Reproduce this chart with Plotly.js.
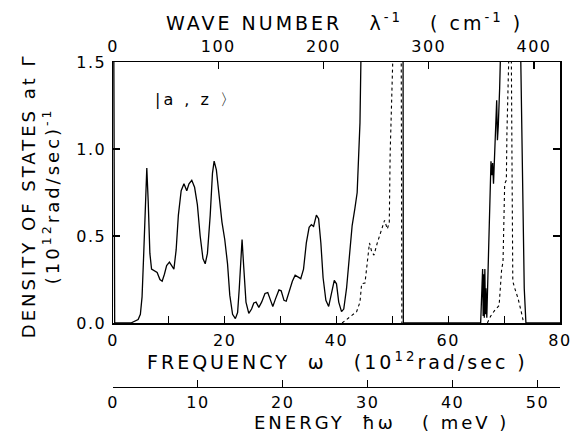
<!DOCTYPE html>
<html>
<head>
<meta charset="utf-8">
<script src="https://cdn.plot.ly/plotly-3.0.1.min.js"></script>
<style>
html,body{margin:0;padding:0;background:#fff;}
#chart{width:578px;height:438px;}
.annotation-text{letter-spacing:3px;}
.xtick text,.x2tick text,.x3tick text,.ytick text{letter-spacing:1.5px;}
</style>
</head>
<body>
<div id="chart"></div>
<script>
// Density of states |a,z> : solid curve (frequency in 10^12 rad/s, value)
const solidW = [0, 0.3, 3.2, 3.8, 4.5, 4.9, 5.2, 5.5, 5.8, 6.05, 6.3, 6.6, 6.9, 7.4, 7.9, 8.4, 8.8, 9.2, 9.6, 10.1, 10.5, 10.9, 11.3, 11.7, 12.2, 12.7, 13.2, 13.6, 14.1, 14.6, 15.1, 15.6, 16.1, 16.5, 16.9, 17.4, 17.8, 18.1, 18.5, 19.0, 19.5, 20.0, 20.5, 20.9, 21.4, 21.9, 22.3, 22.6, 22.9, 23.1, 23.4, 23.8, 24.3, 24.8, 25.2, 25.6, 26.1, 26.6, 27.2, 27.7, 28.2, 28.6, 29.1, 29.7, 30.1, 30.6, 31.0, 31.5, 32.1, 32.6, 33.2, 33.6, 34.1, 34.6, 35.1, 35.5, 35.9, 36.4, 36.8, 37.2, 37.6, 38.1, 38.6, 39.1, 39.6, 40.0, 40.4, 40.9, 41.3, 41.8, 42.3, 42.8, 43.3, 43.7, 44.2, 44.6, 51.9, 51.96, 65.8, 66.15, 66.25, 66.35, 66.45, 66.55, 66.65, 66.75, 66.9, 67.2, 67.5, 67.65, 67.8, 67.95, 68.1, 68.3, 68.5, 68.67, 68.8, 68.95, 69.2, 69.7, 72.75, 73.2, 73.6, 73.9, 80];
const solidV = [3.0, 0, 0, 0.01, 0.02, 0.05, 0.15, 0.4, 0.75, 0.89, 0.7, 0.4, 0.31, 0.30, 0.29, 0.25, 0.24, 0.28, 0.33, 0.35, 0.33, 0.31, 0.42, 0.62, 0.76, 0.80, 0.76, 0.80, 0.82, 0.78, 0.68, 0.50, 0.37, 0.34, 0.40, 0.62, 0.86, 0.93, 0.88, 0.72, 0.58, 0.48, 0.34, 0.16, 0.05, 0.025, 0.06, 0.20, 0.40, 0.48, 0.32, 0.12, 0.055, 0.08, 0.115, 0.12, 0.09, 0.12, 0.17, 0.175, 0.13, 0.095, 0.14, 0.19, 0.185, 0.13, 0.125, 0.18, 0.24, 0.275, 0.26, 0.255, 0.31, 0.46, 0.55, 0.565, 0.555, 0.62, 0.60, 0.46, 0.26, 0.13, 0.095, 0.17, 0.245, 0.225, 0.12, 0.065, 0.08, 0.20, 0.40, 0.56, 0.66, 0.75, 1.15, 2.0, 2.0, 0, 0, 0.31, 0.04, 0.28, 0.03, 0.31, 0.05, 0.2, 0.03, 0.35, 0.75, 0.93, 0.85, 0.92, 0.80, 0.95, 1.15, 1.28, 1.05, 1.13, 1.35, 2.0, 2.0, 0.9, 0.2, 0, 0];
// dashed curve
const dashW = [41.0, 42.4, 43.6, 44.2, 44.5, 45.1, 45.5, 45.9, 46.3, 46.7, 47.3, 48.1, 48.6, 49.1, 49.45, 49.6, 50.05, 50.5, 51.55, 51.7, null, 67.0, 67.6, 68.25, 69.1, 69.56, 69.8, 70.1, 70.4, 70.5, 70.9, 71.2, 71.4, 71.55, 71.9, 72.5, 73.1, 73.5];
const dashV = [0, 0.036, 0.065, 0.12, 0.225, 0.23, 0.36, 0.46, 0.41, 0.39, 0.46, 0.54, 0.59, 0.54, 0.58, 0.97, 1.35, 2.0, 2.0, 0, null, 0, 0.04, 0.07, 0.10, 0.31, 0.35, 0.80, 0.82, 1.09, 2.0, 2.0, 0.97, 0.24, 0.20, 0.14, 0.06, 0];

// axes ticks
const freqTicks = [0, 20, 40, 60, 80];
const freqMinorStep = 10;
const waveTicks = [0, 100, 200, 300, 400];
const energyTicks = [0, 10, 20, 30, 40, 50];
const dosTicks = [0, 0.5, 1.0, 1.5];
const dosLabels = ['0.0', '0.5', '1.0', '1.5'];

const FREQ_MAX = 80;
const WAVE_PER_FREQ = 1 / 0.188365;   // cm^-1 per 10^12 rad/s
const MEV_PER_FREQ = 0.658212;        // meV per 10^12 rad/s

const font = {family: 'DejaVu Sans, sans-serif', color: '#000', size: 16};

const traces = [
  {x: solidW, y: solidV, mode: 'lines', line: {color: '#000', width: 1.3}, xaxis: 'x', yaxis: 'y', showlegend: false, hoverinfo: 'skip'},
  {x: dashW, y: dashV, mode: 'lines', line: {color: '#000', width: 1.1, dash: '3px,3px'}, xaxis: 'x', yaxis: 'y', showlegend: false, hoverinfo: 'skip', connectgaps: false},
  {x: [], y: [], mode: 'lines', xaxis: 'x2', yaxis: 'y', showlegend: false, hoverinfo: 'skip'},
  {x: [], y: [], mode: 'lines', xaxis: 'x3', yaxis: 'y', showlegend: false, hoverinfo: 'skip'}
];

const axCommon = {showgrid: false, zeroline: false, showline: true, linecolor: '#000', ticks: 'inside', tickcolor: '#000', tickfont: font, fixedrange: true};

const layout = {
  width: 578, height: 438,
  margin: {l: 113, r: 18, t: 62, b: 51},
  paper_bgcolor: '#fff', plot_bgcolor: '#fff',
  font: font,
  xaxis: Object.assign({}, axCommon, {range: [0, FREQ_MAX], tickmode: 'array', tickvals: freqTicks, ticklen: 7, tickwidth: 1.2, linewidth: 1.5, anchor: 'y', side: 'bottom', ticklabelstandoff: 2,
    minor: {dtick: freqMinorStep, tick0: 0, ticks: 'inside', ticklen: 7, tickwidth: 1.2, tickcolor: '#000', showgrid: false}}),
  xaxis2: Object.assign({}, axCommon, {range: [0, FREQ_MAX * WAVE_PER_FREQ], tickmode: 'array', tickvals: waveTicks, ticklen: 7, tickwidth: 1.2, linewidth: 1.5, overlaying: 'x', anchor: 'y', side: 'top', ticklabelstandoff: 2}),
  xaxis3: Object.assign({}, axCommon, {range: [0, FREQ_MAX * MEV_PER_FREQ], tickmode: 'array', tickvals: energyTicks, ticklen: 7, tickwidth: 1.2, linewidth: 1.2, overlaying: 'x', anchor: 'free', position: 0, side: 'bottom', ticklabelstandoff: 1}),
  yaxis: Object.assign({}, axCommon, {range: [0, 1.5], domain: [0.19692, 1], tickmode: 'array', tickvals: dosTicks, ticktext: dosLabels, ticklen: 7, tickwidth: 1.2, linewidth: 1.5, mirror: 'ticks', ticklabelstandoff: 2}),
  annotations: [
    {text: 'WAVE NUMBER\u00a0\u00a0 λ<sup>-1</sup>\u00a0\u00a0 ( cm<sup>-1</sup> )', xref: 'paper', yref: 'paper', x: 0.519, y: 1.123, xanchor: 'center', yanchor: 'middle', showarrow: false, font: {family: font.family, size: 19, color: '#000'}},
    {text: 'FREQUENCY\u00a0 ω\u00a0\u00a0 (10<sup>12</sup>rad/sec )', xref: 'paper', yref: 'paper', x: 0.503, y: 0.080, xanchor: 'center', yanchor: 'middle', showarrow: false, font: {family: font.family, size: 19, color: '#000'}},
    {text: 'ENERGY\u00a0 ħω\u00a0\u00a0 ( meV )', xref: 'paper', yref: 'paper', x: 0.600, y: -0.108, xanchor: 'center', yanchor: 'middle', showarrow: false, font: {family: font.family, size: 18, color: '#000'}},
    {text: 'DENSITY OF STATES at Γ<br>(10<sup>12</sup>rad/sec)<sup>-1</sup>', xref: 'paper', yref: 'paper', x: -0.163, y: 0.5877, xanchor: 'center', yanchor: 'middle', textangle: -90, showarrow: false, font: {family: font.family, size: 18, color: '#000'}},
    {text: '|a , z 〉', xref: 'paper', yref: 'paper', x: 0.188, y: 0.886, xanchor: 'center', yanchor: 'middle', showarrow: false, font: {family: font.family, size: 16, color: '#000'}}
  ]
};

Plotly.newPlot('chart', traces, layout, {staticPlot: true, displayModeBar: false});
</script>
</body>
</html>
